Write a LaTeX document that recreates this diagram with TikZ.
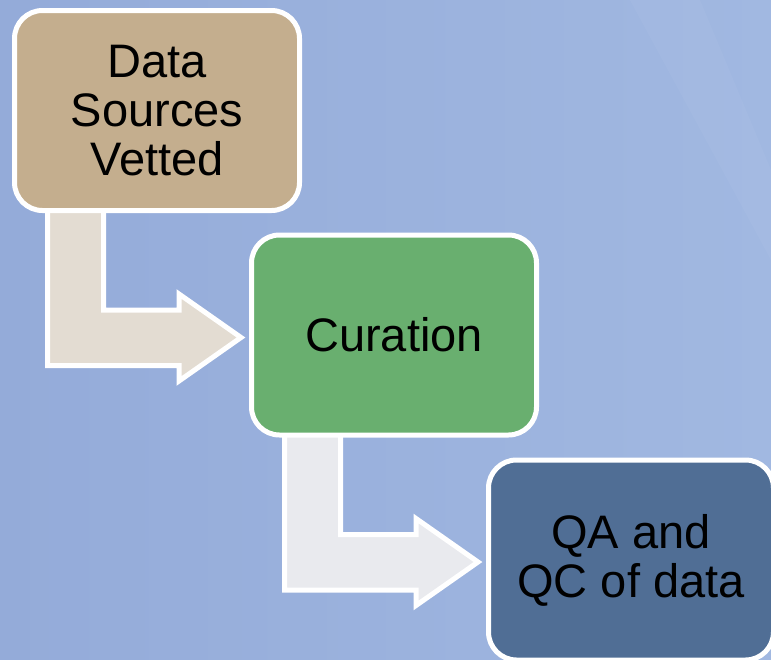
\documentclass[tikz,border=0pt]{standalone}
\usepackage{fontspec}
\setmainfont{Liberation Sans}
\usetikzlibrary{calc}
\definecolor{bgL}{HTML}{94ABD9}
\definecolor{bgR}{HTML}{A1B8E1}
\definecolor{tanbox}{HTML}{C4AE8E}
\definecolor{tanarrow}{HTML}{E3DCD2}
\definecolor{greenbox}{HTML}{69AF6F}
\definecolor{greyarrow}{HTML}{E9EAEE}
\definecolor{bluebox}{HTML}{506E95}
\pgfdeclarelayer{backlayer}
\pgfdeclarelayer{arrowlayer}
\pgfsetlayers{backlayer,arrowlayer,main}
\tikzset{
  stepbox/.style={draw=white, line width=5pt, rounded corners=28pt,
    minimum width=285pt, minimum height=200pt, align=center,
    font=\fontsize{47}{49}\selectfont, text=black},
  bentarrow/.style={draw=white, line width=5pt, line join=miter, miter limit=10}
}
\newcommand{\mybent}[2]{%
  \path[bentarrow, fill=#2] let \p0=(#1.south west) in
    (\x0+35.5pt,\y0+13pt) -- (\x0+91.5pt,\y0+13pt) -- (\x0+91.5pt,\y0-97pt)
    -- (\x0+167pt,\y0-97pt) -- (\x0+167pt,\y0-81pt) -- (\x0+229pt,\y0-124.5pt)
    -- (\x0+167pt,\y0-168pt) -- (\x0+167pt,\y0-152.5pt) -- (\x0+35.5pt,\y0-152.5pt) -- cycle;
}
\begin{document}
\begin{tikzpicture}[x=1pt,y=-1pt]
\useasboundingbox (0,0) rectangle (771,659);
\clip (0,0) rectangle (771,659);
\begin{pgfonlayer}{backlayer}
\shade[left color=bgL, right color=bgR] (0,0) rectangle (771,659);
\fill[white, opacity=0.04] (630,0) -- (700,0) -- (771,170) -- (771,260) -- cycle;
\end{pgfonlayer}
\path (157,110.5) node[stepbox, fill=tanbox] (b1) {Data\\Sources\\Vetted};
\path (394,335) node[stepbox, fill=greenbox] (b2) {Curation};
\path (631,560) node[stepbox, fill=bluebox] (b3) {QA and\\QC of data};
\begin{pgfonlayer}{arrowlayer}
\mybent{b1}{tanarrow}
\mybent{b2}{greyarrow}
\end{pgfonlayer}
\end{tikzpicture}
\end{document}
